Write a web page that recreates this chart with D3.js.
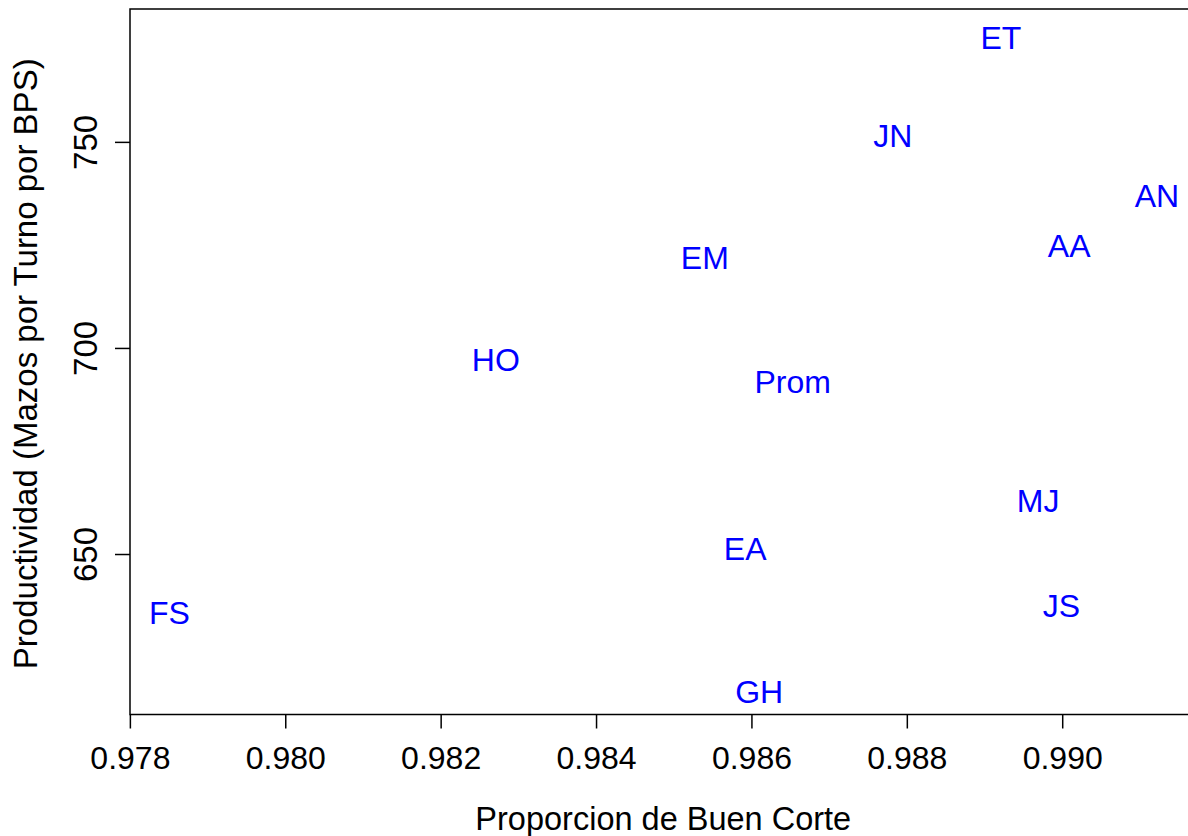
<!DOCTYPE html>
<html>
<head>
<meta charset="utf-8">
<script src="https://cdn.jsdelivr.net/npm/d3@7"></script>
<style>
  body { margin: 0; background: #fff; }
  svg text { font-family: "Liberation Sans", Arial, Helvetica, sans-serif; }
</style>
</head>
<body>
<div id="chart"></div>
<script>
// operators and their values
const labels = ["ET", "JN", "AN", "AA", "EM", "HO", "Prom", "MJ", "EA", "JS", "FS", "GH"]
const buenCorte = [0.98921, 0.98782, 0.99122, 0.99009, 0.98540, 0.98271, 0.98653, 0.98969, 0.98592, 0.98999, 0.97851, 0.98610]
const productividad = [775.9, 752.2, 737.7, 725.4, 722.6, 697.8, 692.5, 663.7, 652.0, 638.2, 636.5, 617.4]

const xTicks = [0.978, 0.980, 0.982, 0.984, 0.986, 0.988, 0.990]
const yTicks = [650, 700, 750]

const width = 1188, height = 836
const plotLeft = 130, plotRight = 1196.5, plotTop = 9, plotBottom = 714.5

// R style: data range stretched by 4% on each side
function padded(values) {
    const [lo, hi] = d3.extent(values)
    const d = (hi - lo) * 0.04
    return [lo - d, hi + d]
}

const x = d3.scaleLinear().domain(padded(buenCorte)).range([plotLeft, plotRight])
const y = d3.scaleLinear().domain(padded(productividad)).range([plotBottom, plotTop])

const svg = d3.select('#chart')
    .append('svg')
    .attr('width', width)
    .attr('height', height)

// frame
svg.append('rect')
    .attr('x', plotLeft)
    .attr('y', plotTop)
    .attr('width', plotRight - plotLeft)
    .attr('height', plotBottom - plotTop)
    .attr('fill', 'none')
    .attr('stroke', '#000')
    .attr('stroke-width', 1.5)

const xAxis = svg.append('g')
    .attr('transform', `translate(0 ${plotBottom})`)
    .call(d3.axisBottom(x).tickValues(xTicks).tickFormat(d3.format('.3f')).tickSize(14))
xAxis.select('.domain').remove()
xAxis.selectAll('line').attr('stroke', '#000').attr('stroke-width', 1.5)
xAxis.selectAll('text')
    .attr('y', 54.5)
    .attr('dy', 0)
    .attr('fill', '#000')
    .style('font-size', '32px')

const yAxis = svg.append('g')
    .attr('transform', `translate(${plotLeft} 0)`)
    .call(d3.axisLeft(y).tickValues(yTicks).tickSize(15))
yAxis.select('.domain').remove()
yAxis.selectAll('line').attr('stroke', '#000').attr('stroke-width', 1.5)
yAxis.selectAll('text')
    .attr('transform', 'rotate(-90)')
    .attr('x', 0)
    .attr('y', -33.3)
    .attr('dy', 0)
    .attr('text-anchor', 'middle')
    .attr('fill', '#000')
    .style('font-size', '33px')

// axis titles
svg.append('text')
    .attr('x', (plotLeft + plotRight) / 2)
    .attr('y', 830)
    .attr('text-anchor', 'middle')
    .style('font-size', '32.5px')
    .text('Proporcion de Buen Corte')

svg.append('text')
    .attr('transform', `translate(36.7 ${(plotTop + plotBottom) / 2 + 2}) rotate(-90)`)
    .attr('text-anchor', 'middle')
    .style('font-size', '33px')
    .text('Productividad (Mazos por Turno por BPS)')

// point labels
svg.append('g')
    .selectAll('text')
    .data(labels)
    .join('text')
        .attr('x', (d, i) => x(buenCorte[i]))
        .attr('y', (d, i) => y(productividad[i]))
        .attr('dy', '0.444em')
        .attr('text-anchor', 'middle')
        .attr('fill', '#0000ff')
        .style('font-size', '32px')
        .text(d => d)
</script>
</body>
</html>
